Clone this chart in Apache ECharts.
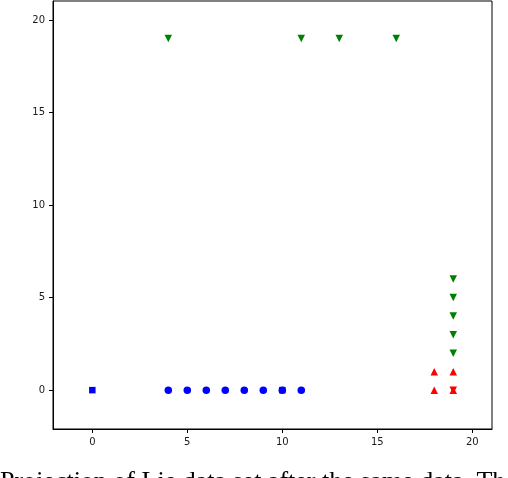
<!DOCTYPE html>
<html>
<head>
<meta charset="utf-8">
<script src="https://cdn.jsdelivr.net/npm/echarts@6/dist/echarts.min.js"></script>
<style>
  html, body { margin: 0; padding: 0; background: #fff; }
  #chart { width: 508px; height: 478px; }
</style>
</head>
<body>
<div id="chart"></div>
<script>
// points, [x, y]
const blueCircles = [[4, 0], [5, 0], [6, 0], [7, 0], [8, 0], [9, 0], [10, 0], [11, 0]]
const blueSquares = [[0, 0], [10, 0]]
const greenDown = [[4, 19], [11, 19], [13, 19], [16, 19], [19, 2], [19, 3], [19, 4], [19, 5], [19, 6]]
const redUp = [[18, 0], [18, 1], [19, 1], [19, 0]]
const redDown = [[19, 0]]

const xTicks = [0, 5, 10, 15, 20]
const yTicks = [0, 5, 10, 15, 20]
const caption = 'Projection of Lie data set after the same data. The'

const chart = echarts.init(document.getElementById('chart'))

const axisCommon = {
  type: 'value',
  splitLine: { show: false },
  axisLine: { show: true, onZero: false, lineStyle: { color: '#000', width: 1 } },
  axisTick: { show: true, length: 4, lineStyle: { color: '#000' } },
  axisLabel: {
    color: '#1a1a1a',
    fontFamily: 'DejaVu Sans',
    fontSize: 10,
    margin: 8
  }
}

const dot = (color) => ({ color, opacity: 1 })

const option = {
  backgroundColor: '#fff',
  animation: false,
  grid: {
    left: 53, right: 16, top: 1, bottom: 49,
    show: true, borderColor: '#000', borderWidth: 1
  },
  xAxis: {
    ...axisCommon,
    min: -2.07,
    max: 21.04,
    axisTick: { ...axisCommon.axisTick, customValues: xTicks },
    axisLabel: { ...axisCommon.axisLabel, customValues: xTicks }
  },
  yAxis: {
    ...axisCommon,
    min: -2.1,
    max: 21.03,
    axisTick: { ...axisCommon.axisTick, customValues: yTicks },
    axisLabel: { ...axisCommon.axisLabel, customValues: yTicks }
  },
  graphic: [
    {
      type: 'text',
      left: 0,
      top: 469,
      style: {
        text: caption,
        fontFamily: 'Liberation Serif',
        fontSize: 26,
        fill: '#000'
      }
    }
  ],
  series: [
    { type: 'scatter', data: blueCircles, symbol: 'circle', symbolSize: 7.5, itemStyle: dot('#0000ff') },
    { type: 'scatter', data: blueSquares, symbol: 'rect', symbolSize: 6.5, itemStyle: dot('#0000ff') },
    { type: 'scatter', data: greenDown, symbol: 'triangle', symbolRotate: 180, symbolSize: 7.5, itemStyle: dot('#008000') },
    { type: 'scatter', data: redUp, symbol: 'triangle', symbolSize: 7.5, itemStyle: dot('#ff0000') },
    { type: 'scatter', data: redDown, symbol: 'triangle', symbolRotate: 180, symbolSize: 7.5, itemStyle: dot('#ff0000') }
  ]
}

chart.setOption(option)
</script>
</body>
</html>
